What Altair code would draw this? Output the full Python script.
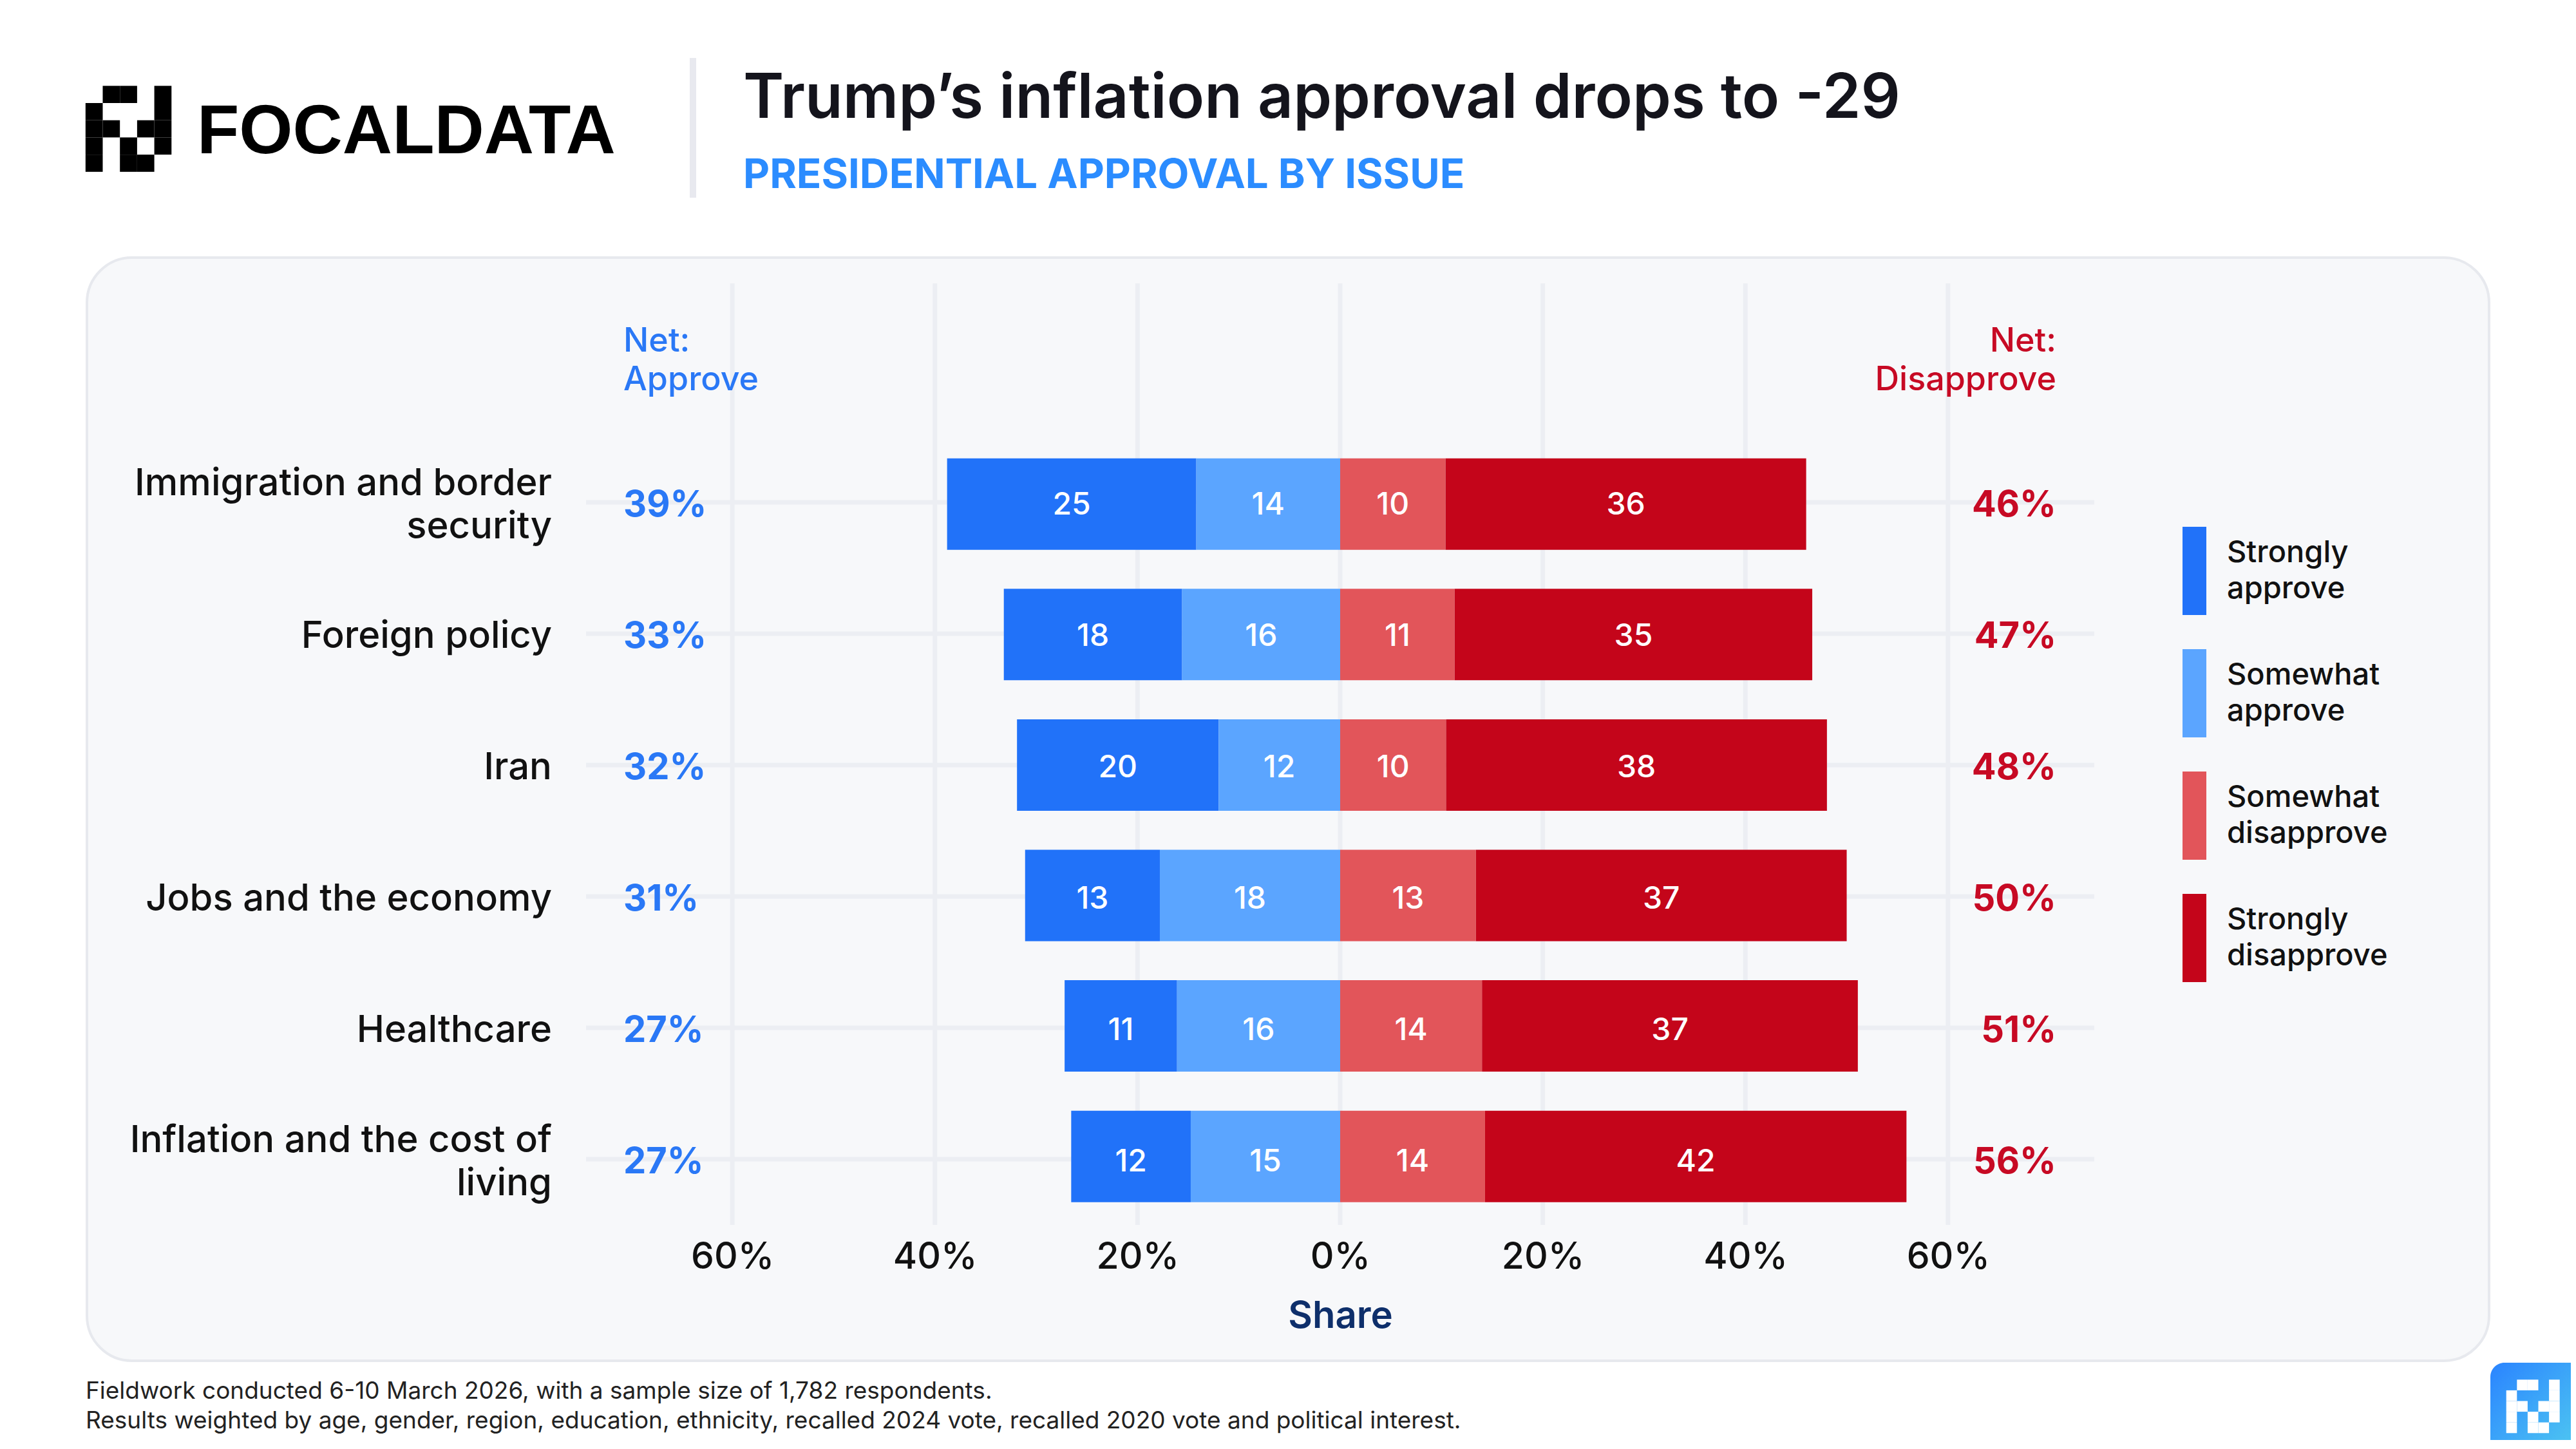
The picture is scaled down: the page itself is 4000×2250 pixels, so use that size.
import textwrap
import altair as alt
import pandas as pd
import numpy as np

# ---------------- data ----------------
ISSUES = [
    "Immigration and border security",
    "Foreign policy",
    "Iran",
    "Jobs and the economy",
    "Healthcare",
    "Inflation and the cost of living",
]
STRONGLY_APPROVE = [24.6, 17.6, 19.9, 13.3, 11.1, 11.8]
SOMEWHAT_APPROVE = [14.2, 15.6, 12.0, 17.8, 16.1, 14.75]
SOMEWHAT_DISAPPROVE = [10.4, 11.3, 10.45, 13.4, 14.0, 14.3]
STRONGLY_DISAPPROVE = [35.6, 35.3, 37.6, 36.6, 37.1, 41.6]

SEGMENTS = ["Strongly approve", "Somewhat approve", "Somewhat disapprove", "Strongly disapprove"]
SEG_COLORS = ["#2172F9", "#5BA5FF", "#E2555A", "#C4051A"]
X_TICKS = [-60, -40, -20, 0, 20, 40, 60]
NET_HEADERS = ["Net:\nApprove", "Net:\nDisapprove"]

TITLE = "Trump\u2019s inflation approval drops to -29"
SUBTITLE = "PRESIDENTIAL APPROVAL BY ISSUE"
BRAND = "FOCALDATA"
FOOTNOTE = ("Fieldwork conducted 6-10 March 2026, with a sample size of 1,782 respondents.\n"
            "Results weighted by age, gender, region, education, ethnicity, recalled 2024 vote, "
            "recalled 2020 vote and political interest.")
LOGO = [
    [0, 1, 1, 0, 1],
    [1, 0, 0, 0, 1],
    [1, 1, 0, 1, 1],
    [1, 0, 1, 0, 1],
    [1, 0, 1, 1, 0],
]

def rnd(v):
    return int(np.floor(v + 0.5 + 1e-9))

# ---------------- layout constants ----------------
FONT = "Inter"
W, H = 2342, 1462
XDOM = [-74.44, 74.44]
YDOM = [-1.6667, 5.5]
ROW_PX = H / (YDOM[1] - YDOM[0])
LABEL_LINE_PX = 67
MID_DY = 5

# ---------------- tables ----------------
seg_rows, row_rows, lab_rows = [], [], []
for i, issue in enumerate(ISSUES):
    sa, sw, sd, sdd = (STRONGLY_APPROVE[i], SOMEWHAT_APPROVE[i],
                       SOMEWHAT_DISAPPROVE[i], STRONGLY_DISAPPROVE[i])
    parts = [(-(sa + sw), -sw, sa), (-sw, 0.0, sw), (0.0, sd, sd), (sd, sd + sdd, sdd)]
    for seg, (a, b, v) in zip(SEGMENTS, parts):
        seg_rows.append({"issue": issue, "row": i, "segment": seg, "x0": a, "x1": b,
                         "mid": (a + b) / 2, "label": str(rnd(v))})
    row_rows.append({"issue": issue, "row": i,
                     "app": f"{rnd(sa + sw)}%", "dis": f"{rnd(sd + sdd)}%"})
    lines = textwrap.wrap(issue, 25)
    n = len(lines)
    for k, line in enumerate(lines):
        lab_rows.append({"line": line,
                         "ly": i + (k - (n - 1) / 2) * LABEL_LINE_PX / ROW_PX})
seg_df = pd.DataFrame(seg_rows)
row_df = pd.DataFrame(row_rows)
lab_df = pd.DataFrame(lab_rows)
tick_df = pd.DataFrame({"tick": X_TICKS})

def logo_cells(x0, y0, cell):
    out = []
    for r, line in enumerate(LOGO):
        for c, on in enumerate(line):
            if on:
                out.append({"x": x0 + c * cell, "x2": x0 + (c + 1) * cell,
                            "y": y0 + r * cell, "y2": y0 + (r + 1) * cell})
    return pd.DataFrame(out)

logo_df = logo_cells(-777.2, -306.7, 26.7)
tile_logo_df = logo_cells(2981.7, 1702.3, 16.6)

xscale = alt.Scale(domain=XDOM, nice=False, zero=False)
yscale = alt.Scale(domain=YDOM, nice=False, zero=False, reverse=True)

one = pd.DataFrame({"a": [0]})

panel = alt.Chart(one).mark_rect(
    fill="#F7F8FA", stroke="#E7E9EE", strokeWidth=4, cornerRadius=70
).encode(x=alt.value(-775), x2=alt.value(2955), y=alt.value(-40), y2=alt.value(1673))

vgrid = alt.Chart(tick_df).mark_rule(color="#ECEEF3", strokeWidth=7).encode(
    x=alt.X("tick:Q", scale=xscale, axis=None))

hgrid = alt.Chart(row_df).mark_rule(color="#ECEEF3", strokeWidth=7).encode(
    y=alt.Y("row:Q", scale=yscale, axis=None))

bars = alt.Chart(seg_df).mark_bar(size=142, orient="horizontal").encode(
    x=alt.X("x0:Q", scale=xscale, axis=alt.Axis(
        values=X_TICKS, labelExpr="abs(datum.value) + '%'", title="Share",
        labelFont=FONT, labelFontSize=57, labelFontWeight=500, labelColor="#111111",
        labelPadding=22, labelFlush=False, titleFont=FONT, titleFontSize=58,
        titleFontWeight=600, titleColor="#0E2F6B", titlePadding=35,
        domain=False, ticks=False, grid=False, zindex=1)),
    x2="x1:Q",
    y=alt.Y("row:Q", scale=yscale, axis=None),
    color=alt.Color("segment:N", scale=alt.Scale(domain=SEGMENTS, range=SEG_COLORS),
                    legend=alt.Legend(
                        title=None, orient="none", legendX=2379, legendY=378,
                        direction="vertical", symbolType="M0.46,-1H1V1H0.46Z",
                        symbolSize=18769, symbolOffset=0, labelOffset=32,
                        rowPadding=53, padding=0, symbolStrokeWidth=0, symbolOpacity=1,
                        labelFont=FONT, labelFontSize=47, labelFontWeight=500,
                        labelColor="#111111", labelLimit=2000, labelBaseline="line-bottom",
                        labelExpr="split(datum.label, ' ')")),
)

bar_text = alt.Chart(seg_df).mark_text(
    color="white", font=FONT, fontSize=48, fontWeight=500, align="center",
    baseline="middle", dy=MID_DY
).encode(x=alt.X("mid:Q", scale=xscale, axis=None),
         y=alt.Y("row:Q", scale=yscale, axis=None), text="label:N")

cat_labels = alt.Chart(lab_df).mark_text(
    color="#111111", font=FONT, fontSize=58, fontWeight=500, align="right",
    baseline="middle", dy=MID_DY
).encode(x=alt.value(-53), y=alt.Y("ly:Q", scale=yscale, axis=None), text="line:N")

BLUE_T = "#2A78F6"
RED_T = "#C70A24"

net_app = alt.Chart(row_df).mark_text(
    color=BLUE_T, font=FONT, fontSize=56, fontWeight=700, align="left",
    baseline="middle", dy=MID_DY
).encode(x=alt.value(58), y=alt.Y("row:Q", scale=yscale, axis=None), text="app:N")

net_dis = alt.Chart(row_df).mark_text(
    color=RED_T, font=FONT, fontSize=56, fontWeight=700, align="right",
    baseline="middle", dy=MID_DY
).encode(x=alt.value(2283), y=alt.Y("row:Q", scale=yscale, axis=None), text="dis:N")

hdr_app = alt.Chart(pd.DataFrame({"t": [NET_HEADERS[0]]})).mark_text(
    color=BLUE_T, font=FONT, fontSize=52, fontWeight=500, align="left",
    baseline="alphabetic", lineBreak="\n", lineHeight=60
).encode(x=alt.value(58), y=alt.value(106), text="t:N")

hdr_dis = alt.Chart(pd.DataFrame({"t": [NET_HEADERS[1]]})).mark_text(
    color=RED_T, font=FONT, fontSize=52, fontWeight=500, align="right",
    baseline="alphabetic", lineBreak="\n", lineHeight=60
).encode(x=alt.value(2283), y=alt.value(106), text="t:N")

title = alt.Chart(pd.DataFrame({"t": [TITLE]})).mark_text(
    color="#14141C", font=FONT, fontSize=96, fontWeight=600, align="left", baseline="alphabetic"
).encode(x=alt.value(244), y=alt.value(-257), text="t:N")

subtitle = alt.Chart(pd.DataFrame({"t": [SUBTITLE]})).mark_text(
    color="#2B8CFF", font=FONT, fontSize=63.5, fontWeight=700, align="left",
    baseline="alphabetic"
).encode(x=alt.value(244), y=alt.value(-148), text="t:N")

brand = alt.Chart(pd.DataFrame({"t": [BRAND]})).mark_text(
    color="#000000", font="Liberation Sans", fontSize=107, fontWeight="bold",
    align="left", baseline="alphabetic"
).encode(x=alt.value(-604), y=alt.value(-202), text="t:N")

logo = alt.Chart(logo_df).mark_rect(color="#000000").encode(
    x=alt.X("x:Q", scale=None), x2="x2:Q", y=alt.Y("y:Q", scale=None), y2="y2:Q")

sep = alt.Chart(one).mark_rule(color="#E8E9EF", strokeWidth=10).encode(
    x=alt.value(166), y=alt.value(-350), y2=alt.value(-133))

foot = alt.Chart(pd.DataFrame({"t": [FOOTNOTE]})).mark_text(
    color="#222222", font=FONT, fontSize=37, fontWeight=400, align="left",
    baseline="alphabetic", lineBreak="\n", lineHeight=46
).encode(x=alt.value(-777), y=alt.value(1732), text="t:N")

tile = alt.Chart(one).mark_rect(
    color=alt.Gradient(gradient="linear",
                       stops=[alt.GradientStop(color="#2A84FF", offset=0),
                              alt.GradientStop(color="#4CC3F2", offset=1)],
                       x1=0, y1=0, x2=1, y2=1),
    cornerRadiusTopLeft=22
).encode(x=alt.value(2957), x2=alt.value(3082), y=alt.value(1676), y2=alt.value(1800))

tile_logo = alt.Chart(tile_logo_df).mark_rect(color="white").encode(
    x=alt.X("x:Q", scale=None), x2="x2:Q", y=alt.Y("y:Q", scale=None), y2="y2:Q")

chart = alt.layer(
    panel, vgrid, hgrid, bars, bar_text, cat_labels, net_app, net_dis, hdr_app, hdr_dis,
    title, subtitle, brand, logo, sep, foot, tile, tile_logo
).resolve_scale(x="independent", y="independent").properties(
    width=W, height=H,
    autosize=alt.AutoSizeParams(type="none"),
    padding={"left": 902, "top": 432, "right": 740, "bottom": 334},
    background="white",
).configure_view(stroke=None).configure(style={"guide-label": {"lineHeight": 56}})

chart.save("out.html", embed_options={"renderer": "svg", "actions": False})
